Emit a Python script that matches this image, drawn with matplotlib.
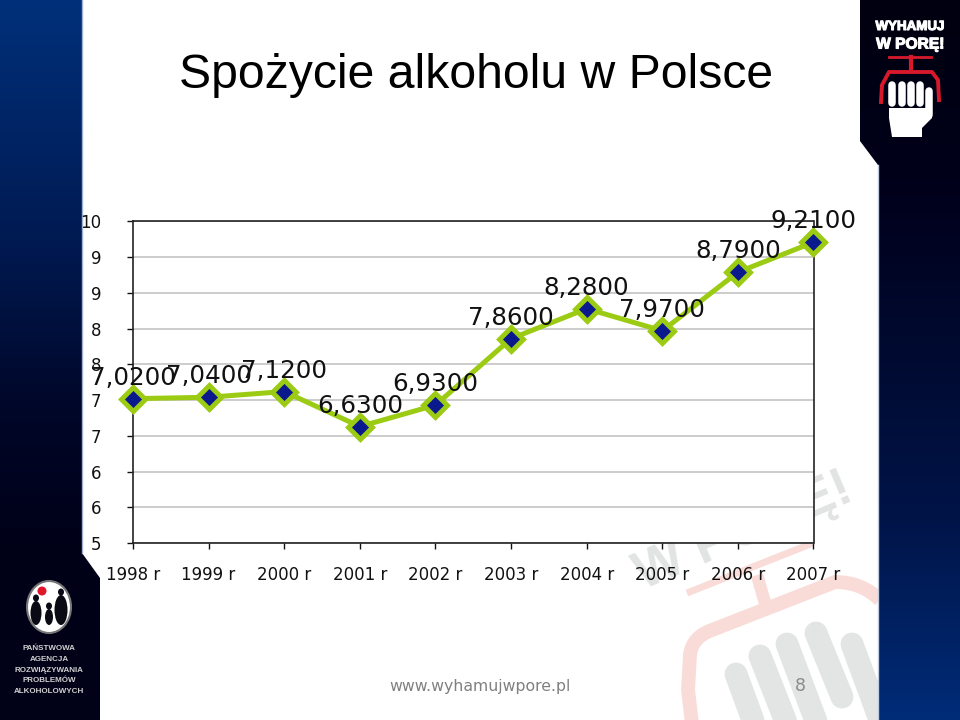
import numpy as np
import matplotlib
matplotlib.use("Agg")
import matplotlib.pyplot as plt
import matplotlib.patheffects as pe
from matplotlib.colors import LinearSegmentedColormap
from matplotlib.patches import Polygon, Ellipse, PathPatch
from matplotlib.path import Path

years = ['1998 r', '1999 r', '2000 r', '2001 r', '2002 r',
         '2003 r', '2004 r', '2005 r', '2006 r', '2007 r']
values = [7.02, 7.04, 7.12, 6.63, 6.93, 7.86, 8.28, 7.97, 8.79, 9.21]
y_ticks = [5, 5.5, 6, 6.5, 7, 7.5, 8, 8.5, 9, 9.5]
y_tick_labels = ['5', '6', '6', '7', '7', '8', '8', '9', '9', '10']

GREEN = '#9ccb14'
NAVY = '#0a1a8c'


def gradient_panel(bg, verts, colors):
    cmap = LinearSegmentedColormap.from_list('panel', colors)
    grad = np.linspace(0, 1, 256).reshape(-1, 1)
    im = bg.imshow(grad, extent=(0, 960, 720, 0), cmap=cmap, aspect='auto', zorder=3)
    clip = Polygon(verts, closed=True, transform=bg.transData, fc='none', ec='none')
    bg.add_patch(clip)
    im.set_clip_path(clip)


def draw_watermark(bg):
    # faded logo behind the chart, bottom right
    bg.text(744, 532, 'W PORĘ!', rotation=23, ha='center', va='center', fontsize=38,
            family='Liberation Sans', weight='bold', color='#e2e3e3', zorder=1)
    red = '#f9dcd8'
    bg.plot([687, 813], [593, 543], color=red, lw=5, solid_capstyle='butt', zorder=1)
    bg.plot([757, 765], [575, 603], color=red, lw=9, solid_capstyle='butt', zorder=1)
    outline = Path([(694, 740), (688, 690), (690, 655), (692, 637), (712, 630),
                    (835, 582), (862, 582), (880, 600)],
                   [Path.MOVETO, Path.LINETO, Path.LINETO, Path.CURVE3, Path.CURVE3,
                    Path.LINETO, Path.CURVE3, Path.CURVE3])
    bg.add_patch(PathPatch(outline, fc='none', ec=red, lw=10, zorder=1))
    for x0, y0, x1, y1 in [(736, 674, 762, 745), (760, 656, 795, 745), (787, 644, 825, 745),
                           (816, 633, 842, 697), (852, 644, 880, 720)]:
        bg.plot([x0, x1], [y0, y1], color='#e3e5e5', lw=16.5, solid_capstyle='round', zorder=1)


def draw_top_logo(bg):
    heavy = [pe.withStroke(linewidth=0.8, foreground='white')]
    bg.text(910, 27, 'WYHAMUJ', ha='center', va='center', fontsize=9.6, weight='bold',
            family='Liberation Sans', color='white', zorder=5, path_effects=heavy)
    bg.text(910, 44, 'W PORĘ!', ha='center', va='center', fontsize=11.2, weight='bold',
            family='Liberation Sans', color='white', zorder=5, path_effects=heavy)
    red = '#d8192c'
    bg.plot([889, 931], [57, 57], color=red, lw=2, zorder=5)
    bg.plot([911, 911], [57, 68], color=red, lw=3, zorder=5)
    bg.plot([881, 882, 889, 932, 938, 939], [102, 85, 72, 72, 80, 100], color=red, lw=2.8, zorder=5)
    for x in [892, 902, 911, 920]:
        bg.plot([x, x], [85, 103], color='white', lw=5.4, solid_capstyle='round', zorder=5)
    bg.plot([929, 929], [91, 115], color='white', lw=5.4, solid_capstyle='round', zorder=5)
    bg.add_patch(Polygon([(889, 108), (932, 108), (932, 118), (922, 128), (922, 137), (892, 137),
                          (889, 118)], closed=True, fc='white', ec='none', zorder=5))


def draw_agency_logo(bg):
    bg.add_patch(Ellipse((49, 607), 44, 52, fc='white', ec='#777777', lw=1.5, zorder=5))
    for x, w, h in [(36, 11, 24), (61, 13, 30), (49, 8, 16)]:
        bg.add_patch(Ellipse((x, 610 + (30 - h) / 2), w, h, fc='#0a0a14', ec='none', zorder=6))
        bg.add_patch(Ellipse((x, 607 - h / 2 + (30 - h) / 2), 6, 7, fc='#0a0a14', ec='none', zorder=6))
    bg.add_patch(Ellipse((42, 591), 9, 9, fc='#e0162b', ec='none', zorder=7))
    lines = ['PAŃSTWOWA', 'AGENCJA', 'ROZWIĄZYWANIA', 'PROBLEMÓW', 'ALKOHOLOWYCH']
    for i, line in enumerate(lines):
        bg.text(49, 649 + i * 10.6, line, ha='center', va='center', fontsize=5.8, weight='bold',
                family='Liberation Sans', color='#d0d0d0', zorder=5)


fig = plt.figure(figsize=(9.6, 7.2), dpi=100, facecolor='white')

bg = fig.add_axes([0, 0, 1, 1], zorder=0)
bg.set_xlim(0, 960)
bg.set_ylim(720, 0)
bg.axis('off')

draw_watermark(bg)
gradient_panel(bg, [(0, 0), (82, 0), (82, 553), (100, 578), (100, 720), (0, 720)],
               [(0, '#00307a'), (240 / 720, '#001a52'), (400 / 720, '#00072a'),
                (560 / 720, '#000016'), (1, '#020218')])
gradient_panel(bg, [(860, 0), (960, 0), (960, 720), (878, 720), (878, 165), (860, 141)],
               [(0, '#000010'), (180 / 720, '#00001a'), (350 / 720, '#000a30'),
                (520 / 720, '#001448'), (1, '#002c78')])
bg.plot([82, 82], [0, 553], color='#9fb0d0', lw=1, zorder=4)
bg.plot([878, 878], [165, 720], color='#c0cce0', lw=1, zorder=4)
draw_top_logo(bg)
draw_agency_logo(bg)

bg.text(476, 76, 'Spożycie alkoholu w Polsce', ha='center', va='center', fontsize=34.7,
        family='Liberation Sans', color='black', zorder=5)
bg.text(480, 687, 'www.wyhamujwpore.pl', ha='center', va='center', fontsize=11.3,
        family='DejaVu Sans', color='#808080', zorder=5)
bg.text(800, 686, '8', ha='center', va='center', fontsize=12.5,
        family='DejaVu Sans', color='#8a8a8a', zorder=5)

ax = fig.add_axes([133 / 960, 1 - 543 / 720, 680.5 / 960, 321.5 / 720], zorder=2)
ax.set_facecolor('white')
x = np.arange(len(years))
ax.plot(x, values, color=GREEN, lw=3.6, marker='D', ms=12, mfc=NAVY, mec=GREEN, mew=3.5,
        clip_on=False, zorder=4)
ax.set_xlim(0, len(years) - 1)
ax.set_ylim(5, 9.5)
ax.set_xticks(x)
ax.set_xticklabels(years)
ax.set_yticks(y_ticks)
ax.set_yticklabels(y_tick_labels)
ax.yaxis.grid(True, color='#c4c4c4', lw=1.2)
ax.set_axisbelow(True)
ax.tick_params(axis='x', length=4, width=1, pad=12.5, labelsize=12, colors='#111111')
ax.tick_params(axis='y', length=4, width=1, pad=19, labelsize=12, colors='#111111')
for side in ax.spines.values():
    side.set_color('#222222')
    side.set_linewidth(1.2)

for xi, v in zip(x, values):
    ax.annotate(f'{v:.4f}'.replace('.', ','), (xi, v), xytext=(0, 15), textcoords='offset points',
                ha='center', va='center', fontsize=17.7, color='#111111',
                annotation_clip=False, zorder=6)

fig.savefig('out.png', dpi=100)
